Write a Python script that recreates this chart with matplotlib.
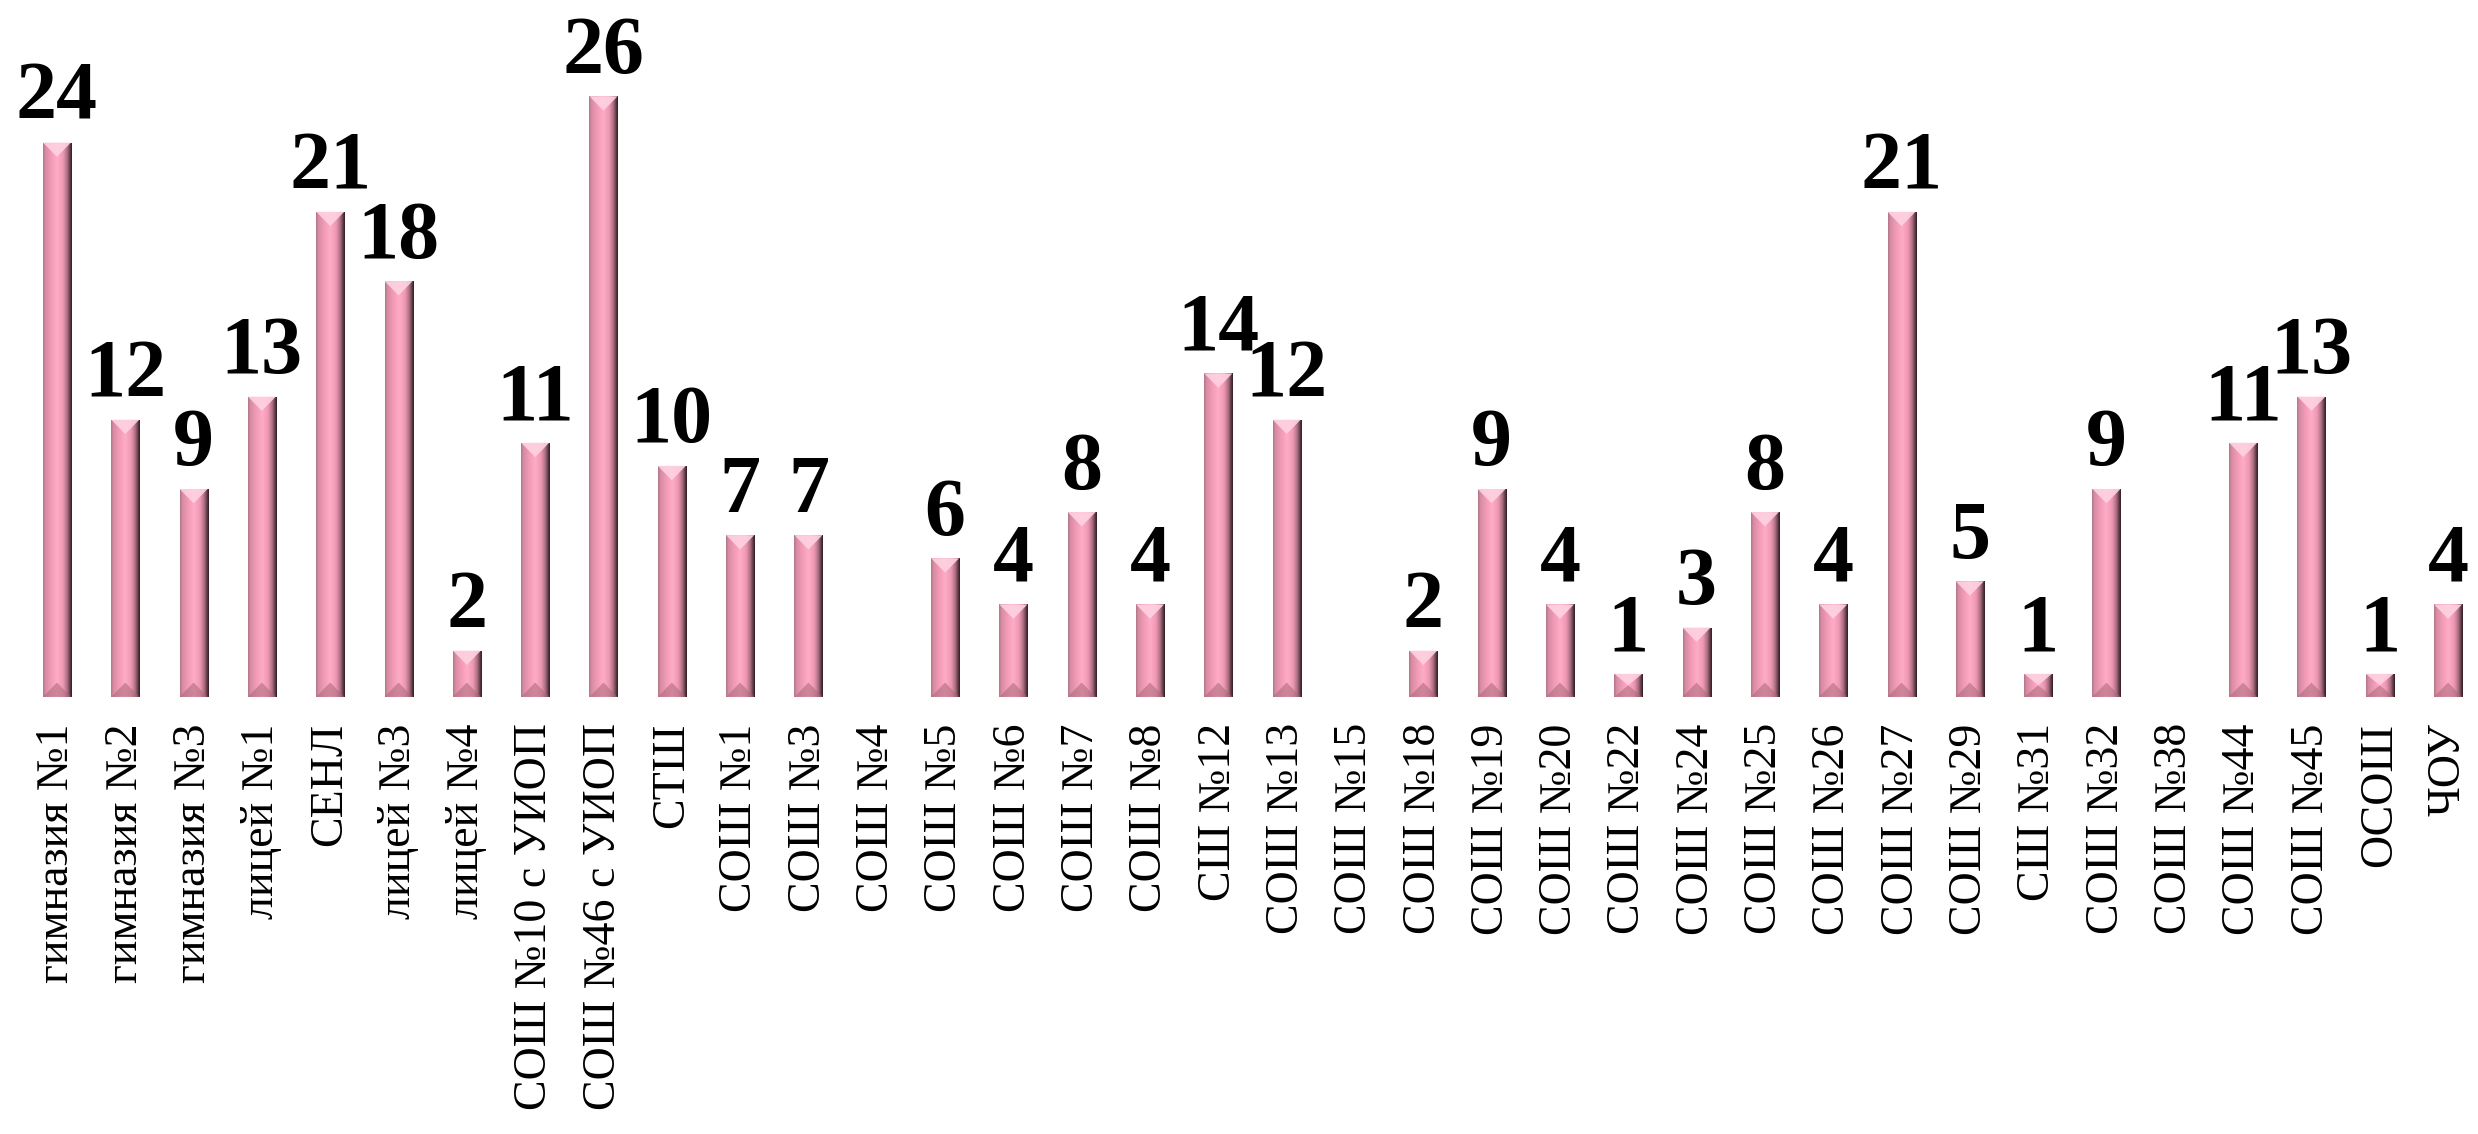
import matplotlib
matplotlib.use("Agg")
import matplotlib.pyplot as plt
import numpy as np
from matplotlib.colors import LinearSegmentedColormap
from matplotlib.patches import Polygon

categories = ["гимназия №1", "гимназия №2", "гимназия №3", "лицей №1", "СЕНЛ",
              "лицей №3", "лицей №4", "СОШ №10 с УИОП", "СОШ №46 с УИОП", "СТШ",
              "СОШ №1", "СОШ №3", "СОШ №4", "СОШ №5", "СОШ №6", "СОШ №7", "СОШ №8",
              "СШ №12", "СОШ №13", "СОШ №15", "СОШ №18", "СОШ №19", "СОШ №20",
              "СОШ №22", "СОШ №24", "СОШ №25", "СОШ №26", "СОШ №27", "СОШ №29",
              "СШ №31", "СОШ №32", "СОШ №38", "СОШ №44", "СОШ №45", "ОСОШ", "ЧОУ"]
values = [24, 12, 9, 13, 21, 18, 2, 11, 26, 10, 7, 7, 0, 6, 4, 8, 4, 14, 12, 0,
          2, 9, 4, 1, 3, 8, 4, 21, 5, 1, 9, 0, 11, 13, 1, 4]

fig = plt.figure(figsize=(24.78, 11.34), dpi=100)
ax = fig.add_axes([0.0092, 0.3855, 0.9925, 0.6145])
x = np.arange(len(categories))
bars = ax.bar(x, values, width=0.41, color="#f5a0bb", edgecolor="none", zorder=2)
ax.set_xlim(-0.5, len(categories) - 0.5)
ax.set_ylim(0, 30.17)

cmap = LinearSegmentedColormap.from_list(
    "bevel",
    [(0.0, "#b27686"), (0.08, "#d88ca4"), (0.3, "#f49cb8"), (0.5, "#ffacc8"),
     (0.7, "#ee98b3"), (0.84, "#b07284"), (0.93, "#6a4250"), (1.0, "#301c24")])
grad = np.linspace(0, 1, 64).reshape(1, -1)

for b, v in zip(bars, values):
    if v <= 0:
        continue
    x0, w, h = b.get_x(), b.get_width(), b.get_height()
    im = ax.imshow(grad, cmap=cmap, extent=(x0, x0 + w, 0, h), aspect="auto",
                   interpolation="bicubic", zorder=3)
    im.set_clip_path(b)
    d = min(0.62, h / 2)
    xc = x0 + w / 2
    ax.add_patch(Polygon([(x0, h), (x0 + w, h), (xc, h - d)], closed=True,
                         facecolor="#ffd2e2", edgecolor="none", alpha=0.9, zorder=4))
    ax.add_patch(Polygon([(x0, 0), (x0 + w, 0), (xc, d)], closed=True,
                         facecolor="#a86878", edgecolor="none", alpha=0.55, zorder=4))
    ax.annotate(f"{v}", (b.get_x() + w / 2, h), xytext=(0, 17), textcoords="offset points",
                ha="center", va="baseline", fontsize=59, fontweight="bold",
                family="Liberation Serif", color="black", zorder=5)

ax.set_xticks(x)
ax.set_xticklabels(categories, rotation=90, fontsize=33, family="Liberation Serif")
ax.tick_params(axis="x", length=0, pad=19)
ax.set_yticks([])
for s in ax.spines.values():
    s.set_visible(False)
ax.patch.set_alpha(0)

fig.savefig("out.png", dpi=100, facecolor="white")
